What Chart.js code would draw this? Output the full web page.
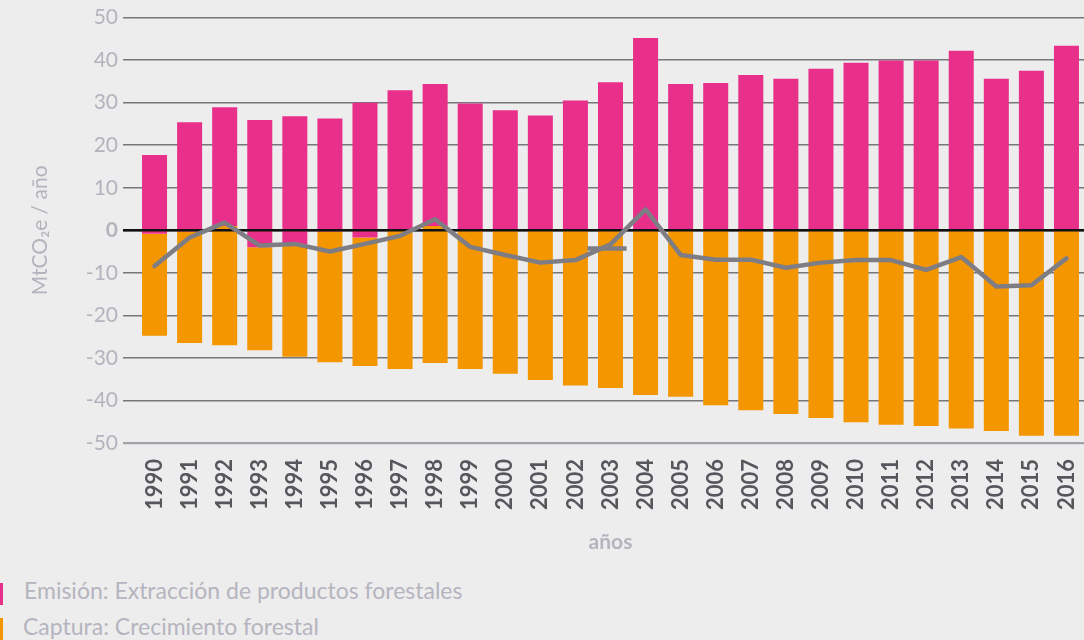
<!DOCTYPE html>
<html lang="es">
<head>
  <meta charset="UTF-8" />
  <title>Emisiones y capturas forestales</title>
  <script src="https://cdn.jsdelivr.net/npm/chart.js"></script>
  <style>
    html, body {
      margin: 0;
      padding: 0;
      background-color: #ededed;
    }
    body {
      width: 1084px;
      height: 640px;
      overflow: hidden;
      position: relative;
      font-family: Lato, 'Noto Sans', sans-serif;
    }
    .chart-box {
      position: absolute;
      left: 0;
      top: 0;
      width: 1084px;
      height: 565px;
    }
    /* Leyenda manual, abajo a la izquierda */
    .leyenda-item {
      position: absolute;
      left: 0;
      height: 26px;
      line-height: 26px;
      font-size: 23px;
      color: #b5b4bf;
      white-space: nowrap;
    }
    .leyenda-item .marca {
      position: absolute;
      left: 0;
      width: 3px;
    }
  </style>
</head>
<body>
  <div class="chart-box">
    <canvas id="grafico"></canvas>
  </div>

  <div class="leyenda-item" style="top:577px;">
    <span class="marca" style="background:#e8308a; top:6px; height:22px;"></span>
    <span style="position:absolute; left:24px;">Emisión: Extracción de productos forestales</span>
  </div>
  <div class="leyenda-item" style="top:613px;">
    <span class="marca" style="background:#f39600; top:5px; height:22px;"></span>
    <span style="position:absolute; left:23px;">Captura: Crecimiento forestal</span>
  </div>

  <script>
    // Datos (MtCO2e / año)
    const anios = ['1990', '1991', '1992', '1993', '1994', '1995', '1996', '1997', '1998', '1999',
      '2000', '2001', '2002', '2003', '2004', '2005', '2006', '2007', '2008', '2009',
      '2010', '2011', '2012', '2013', '2014', '2015', '2016'];

    // tope de la barra rosa
    const emision = [17.7, 25.4, 28.9, 25.9, 26.8, 26.3, 30.0, 32.9, 34.4, 29.8,
      28.2, 27.0, 30.5, 34.8, 45.2, 34.4, 34.6, 36.5, 35.6, 38.0,
      39.4, 39.9, 39.9, 42.2, 35.6, 37.5, 43.4];

    // fondo de la barra naranja
    const captura = [-24.8, -26.5, -27.0, -28.2, -29.7, -31.0, -31.9, -32.6, -31.2, -32.6,
      -33.7, -35.2, -36.5, -37.1, -38.7, -39.1, -41.1, -42.3, -43.2, -44.1,
      -45.1, -45.7, -46.0, -46.6, -47.2, -48.3, -48.3];

    // punto donde se tocan rosa y naranja
    const corte = [-0.8, -0.3, 1.0, -4.0, -3.2, -0.3, -1.7, 0, 1.0, 0,
      0, 0, 0, 0, 0, 0, 0, 0, 0, 0,
      0, 0, 0, 0, 0, 0, 0];

    // linea gris (balance)
    const balance = [-8.4, -1.7, 1.8, -3.6, -3.2, -5.0, -3.2, -1.3, 2.6, -3.9,
      -5.8, -7.6, -7.0, -3.3, 4.9, -5.8, -6.9, -6.9, -8.8, -7.6,
      -7.0, -7.0, -9.3, -6.3, -13.2, -12.9, -6.6];

    // trazo corto suelto cerca de 2003 (posicion en indice de categoria)
    const trazoX = [12.34, 13.46];
    const trazoY = [-4.3, -4.3];

    const ticksY = [-50, -40, -30, -20, -10, 0, 10, 20, 30, 40, 50];

    const rosa = '#e8308a';
    const naranja = '#f39600';
    const gris = '#7e7d84';
    const textoClaro = '#b4b3be';

    // linea del cero en negro, encima de las barras pero debajo de la linea gris
    const lineaCero = {
      id: 'lineaCero',
      afterDatasetDraw(chart, args) {
        if (args.index !== 0) return;
        const ctx = chart.ctx;
        const y = chart.scales.y.getPixelForValue(0);
        const { left, right } = chart.chartArea;
        ctx.save();
        ctx.strokeStyle = '#111111';
        ctx.lineWidth = 2.5;
        ctx.beginPath();
        ctx.moveTo(left - 14, y);
        ctx.lineTo(right, y);
        ctx.stroke();
        ctx.restore();
      }
    };

    const ctx = document.getElementById('grafico').getContext('2d');
    new Chart(ctx, {
      data: {
        labels: anios,
        datasets: [
          {
            type: 'bar',
            label: 'Emisión: Extracción de productos forestales',
            data: emision.map((v, i) => [corte[i], v]),
            backgroundColor: rosa,
            grouped: false,
            barPercentage: 0.713,
            categoryPercentage: 1,
            order: 1
          },
          {
            type: 'bar',
            label: 'Captura: Crecimiento forestal',
            data: captura.map((v, i) => [corte[i], v]),
            backgroundColor: naranja,
            grouped: false,
            barPercentage: 0.713,
            categoryPercentage: 1,
            order: 1
          },
          {
            type: 'line',
            label: 'Balance',
            data: balance,
            borderColor: gris,
            borderWidth: 4.5,
            borderCapStyle: 'round',
            borderJoinStyle: 'round',
            pointRadius: 0,
            tension: 0,
            order: 0
          },
          {
            type: 'line',
            label: 'trazo',
            xAxisID: 'x2',
            data: trazoX.map((x, i) => ({ x: x, y: trazoY[i] })),
            borderColor: gris,
            borderWidth: 4.5,
            pointRadius: 0,
            order: 0
          }
        ]
      },
      options: {
        responsive: true,
        maintainAspectRatio: false,
        animation: false,
        layout: { padding: { top: 7, right: 0, bottom: 0, left: 0 } },
        plugins: {
          legend: { display: false },
          tooltip: { enabled: false }
        },
        scales: {
          x: {
            grid: { display: false },
            border: { display: false },
            ticks: {
              color: '#57565d',
              font: { family: 'Lato', size: 22, weight: 'bold' },
              maxRotation: 90,
              minRotation: 90,
              autoSkip: false,
              padding: 8
            },
            title: {
              display: true,
              text: 'años',
              color: textoClaro,
              font: { family: 'Lato', size: 21, weight: 'bold' },
              padding: { top: 0, bottom: 10 }
            },
            afterFit(scale) {
              scale.height = 122;
              scale.paddingLeft = 0;
              scale.paddingRight = 0;
            }
          },
          x2: {
            type: 'linear',
            display: false,
            min: -0.5,
            max: anios.length - 0.5
          },
          y: {
            min: -50,
            max: 50,
            afterBuildTicks(scale) {
              scale.ticks = ticksY.map(v => ({ value: v }));
            },
            grid: {
              color: c => (c.tick && c.tick.value === -50) ? '#a3a2a8' : '#77767c',
              lineWidth: c => (c.tick && c.tick.value === -50) ? 2.2 : 1.5,
              drawTicks: true,
              tickLength: 14
            },
            border: { display: false },
            ticks: {
              color: textoClaro,
              padding: 5,
              font: c => ({
                family: 'Lato',
                size: 21,
                weight: (c.tick && c.tick.value === 0) ? 'bold' : 'normal'
              })
            },
            title: {
              display: true,
              text: 'MtCO₂e / año',
              color: textoClaro,
              font: { family: 'Lato', size: 21 },
              padding: { top: 28, bottom: 0 }
            },
            afterFit(scale) { scale.width = 137; }
          }
        }
      },
      plugins: [lineaCero]
    });
  </script>
</body>
</html>
